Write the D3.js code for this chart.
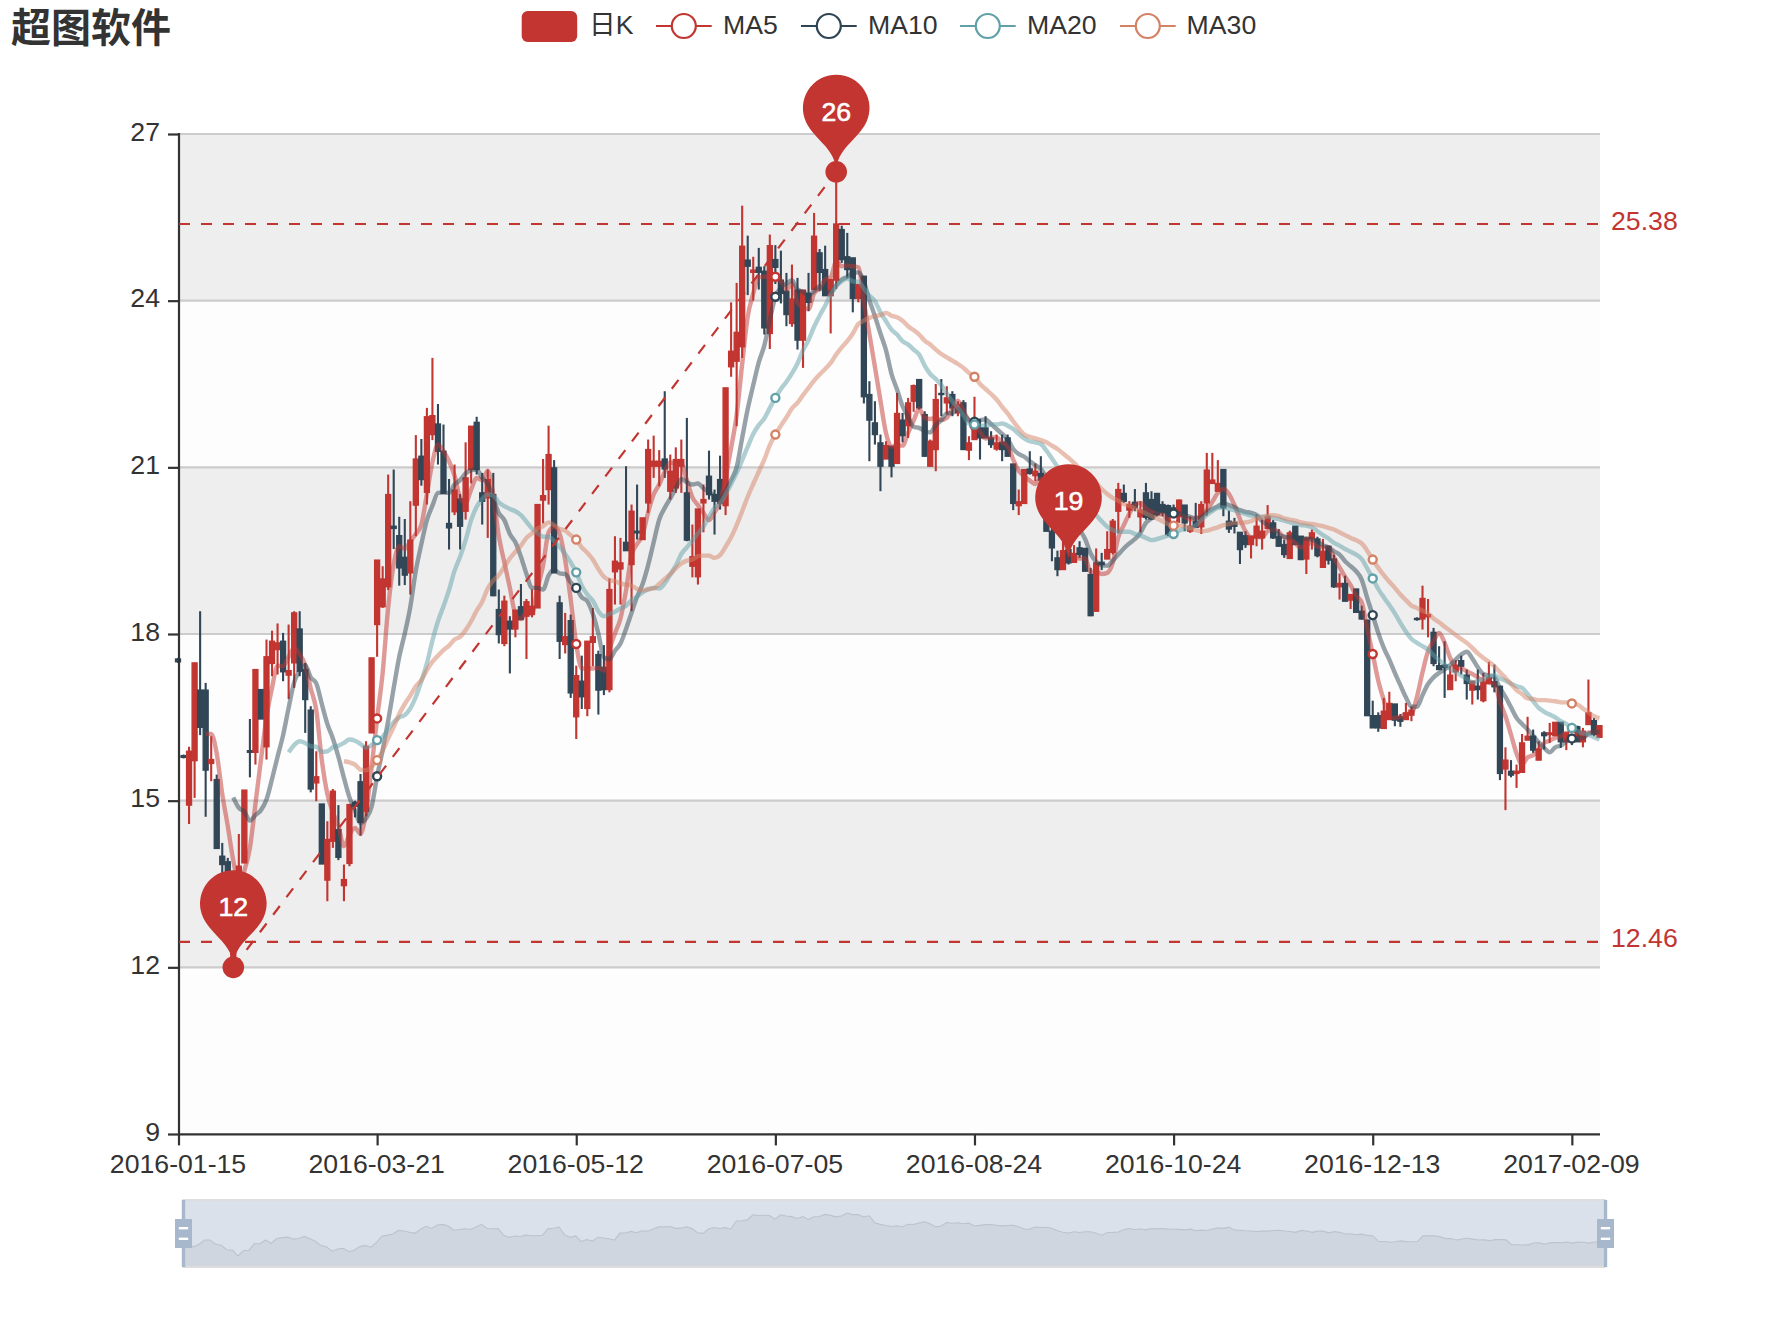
<!DOCTYPE html>
<html><head><meta charset="utf-8">
<script src="https://cdn.jsdelivr.net/npm/d3@7"></script>
<style>html,body{margin:0;padding:0;background:#fff}svg{display:block}text{font-family:"Liberation Sans","Noto Sans CJK SC",sans-serif}</style>
</head><body><svg id="c" width="1777" height="1333"></svg>
<script>
const titleText = "超图软件";
const legendNames = ["日K","MA5","MA10","MA20","MA30"];
const tickIndexes = [0,36,72,108,144,180,216,252];
const tickLabels = ["2016-01-15","2016-03-21","2016-05-12","2016-07-05","2016-08-24","2016-10-24","2016-12-13","2017-02-09"];
const yTicks = [9,12,15,18,21,24,27];
const extraPointIndex = [161];
const extraPointValue = [19.31];

const opens = [
17.55,15.81,14.92,15.72,16.99,16.99,15.67,15.38,14.00,13.90,
12.10,13.70,13.88,15.90,15.87,17.00,15.97,17.47,17.72,17.87,
17.26,17.48,18.09,17.36,16.63,15.32,14.94,13.57,14.27,14.48,
13.47,13.87,14.97,15.34,14.81,16.22,18.17,18.49,18.85,19.94,
19.77,19.38,19.10,20.32,21.20,20.55,21.59,21.78,21.29,19.99,
20.20,20.43,20.21,20.96,21.81,20.54,20.45,20.51,18.44,17.83,
18.23,18.09,18.49,18.32,18.35,18.47,20.41,20.60,20.99,18.56,
17.81,18.24,16.51,17.15,16.66,17.85,17.63,17.40,17.00,19.12,
19.17,19.65,19.25,19.85,19.70,20.36,21.02,21.02,21.15,20.57,
20.63,21.02,20.54,19.22,19.03,20.36,20.84,20.51,20.78,20.31,
22.81,22.91,23.17,24.73,24.51,24.60,24.53,23.41,24.74,24.37,
24.17,23.59,24.19,23.29,24.13,24.20,24.86,24.56,24.09,24.37,
25.28,24.79,24.77,24.04,24.44,22.31,21.80,21.44,21.15,21.38,
21.07,21.85,21.75,22.19,22.58,21.95,21.02,21.32,22.33,22.16,
22.31,21.98,22.16,21.31,21.50,21.71,21.71,21.53,21.33,21.45,
21.53,21.06,20.31,20.35,20.97,20.85,20.89,20.60,19.85,19.37,
19.16,19.52,19.29,19.55,19.54,19.07,18.41,19.29,19.35,19.47,
20.21,20.53,20.23,20.37,20.11,20.54,20.42,20.53,20.33,20.31,
20.27,20.12,20.32,19.85,20.03,19.93,20.36,20.71,20.57,20.96,
20.03,20.01,19.83,19.77,19.61,19.73,19.73,19.90,20.00,19.75,
19.61,19.36,19.94,19.76,19.35,19.71,19.71,19.20,19.58,19.35,
18.85,18.91,18.61,18.81,18.41,18.25,16.53,16.53,16.30,16.46,
16.74,16.51,16.46,16.54,18.28,18.27,18.31,18.03,17.43,17.44,
17.00,17.32,17.52,17.26,16.99,17.06,16.80,17.11,17.14,17.06,
15.57,15.53,15.49,15.51,16.09,16.16,15.73,16.22,16.19,16.17,
16.41,16.06,16.35,16.33,16.06,16.37,16.44,16.14];

const closes = [
17.50,15.78,15.89,17.48,16.32,15.55,15.74,14.14,13.85,13.40,
12.46,13.82,15.19,15.87,17.36,16.47,17.59,17.87,17.84,17.32,
17.34,18.38,17.33,16.82,15.21,15.43,13.86,14.30,15.17,13.98,
13.58,14.93,14.90,14.61,15.98,17.57,19.33,18.99,20.51,19.90,
19.19,19.06,19.69,21.15,20.78,21.91,21.93,21.29,20.53,19.91,
20.59,19.94,20.81,21.74,20.96,20.39,20.78,18.69,17.99,18.59,
18.09,18.43,18.26,18.58,18.50,20.33,20.49,21.23,19.10,17.87,
17.95,16.94,17.25,16.87,17.87,17.95,16.99,17.00,18.80,19.31,
19.28,19.50,20.21,19.82,20.09,21.32,21.11,21.11,20.97,20.93,
21.14,21.14,19.69,19.39,20.25,20.42,20.51,20.39,20.35,22.43,
23.09,23.43,24.98,24.62,24.55,24.51,23.51,24.99,24.60,24.13,
23.75,24.03,23.29,24.19,23.97,25.16,24.51,24.09,24.38,25.38,
24.74,24.56,24.04,24.29,22.27,21.85,21.59,21.02,21.39,21.02,
21.97,21.57,22.16,22.47,22.07,21.20,21.47,22.22,22.31,22.25,
22.07,22.13,21.32,21.44,21.80,21.53,21.53,21.41,21.44,21.32,
21.20,20.35,20.38,20.96,20.89,20.93,20.77,19.85,19.55,19.16,
19.50,19.28,19.45,19.43,19.13,18.33,19.28,19.25,19.52,20.03,
20.60,20.39,20.33,20.27,20.23,20.10,20.07,20.15,20.18,19.79,
20.18,20.41,20.00,19.94,19.92,20.33,20.95,20.77,20.71,20.27,
19.89,19.94,19.52,19.61,19.76,19.94,19.85,20.11,19.73,19.58,
19.43,19.82,19.61,19.34,19.73,19.82,19.41,19.49,19.33,18.85,
18.91,18.59,18.71,18.39,18.27,16.53,16.31,16.31,16.61,16.75,
16.45,16.43,16.58,16.63,18.26,18.64,18.35,17.47,17.36,17.40,
17.26,17.44,17.42,17.11,17.15,17.00,17.13,17.21,17.05,15.49,
15.73,15.46,15.53,16.04,16.16,15.91,15.93,16.17,16.22,16.41,
16.06,16.22,16.06,16.06,16.25,16.58,16.19,16.35];

const lows = [
17.48,15.76,14.58,15.05,16.18,14.71,15.35,14.14,13.70,13.20,
12.00,13.60,13.88,15.42,15.65,16.47,15.74,17.24,17.27,17.15,
16.83,17.03,17.24,16.22,15.15,14.99,13.86,13.19,14.15,13.93,
13.19,13.82,14.70,14.37,14.72,16.22,17.59,18.47,18.79,19.53,
18.87,18.88,18.71,19.76,20.67,20.33,21.49,21.05,20.53,19.52,
20.14,19.52,20.06,20.71,20.87,19.97,19.73,18.68,17.83,17.78,
17.29,17.94,18.26,17.55,18.30,18.47,19.99,20.33,19.10,17.55,
17.65,16.85,16.11,16.65,16.52,17.42,16.55,16.90,16.95,18.53,
18.53,19.50,18.41,19.70,19.70,20.18,20.81,20.66,20.81,20.42,
20.54,20.54,19.67,19.02,18.89,19.83,20.42,19.79,20.24,20.14,
22.63,21.74,22.97,24.10,24.00,24.20,23.39,23.13,24.30,23.95,
23.54,23.53,23.12,22.79,23.81,24.20,24.17,24.09,23.41,24.21,
24.68,24.40,23.79,23.97,22.15,21.11,21.41,20.57,21.15,20.82,
21.07,21.45,21.53,22.00,22.04,21.19,21.02,20.93,21.92,21.95,
21.92,21.92,21.32,21.13,21.50,21.14,21.53,21.35,21.30,21.11,
21.20,20.23,20.14,20.35,20.87,20.75,20.75,19.85,19.31,19.04,
19.16,19.25,19.29,19.37,19.13,18.32,18.41,19.15,19.35,19.43,
19.82,20.36,20.09,20.21,19.83,20.06,20.06,20.12,20.12,19.76,
20.00,20.00,19.85,19.82,19.92,19.80,20.13,20.71,20.57,20.12,
19.82,19.81,19.26,19.55,19.36,19.58,19.52,19.90,19.71,19.58,
19.37,19.36,19.61,19.33,19.08,19.52,19.38,19.20,19.25,18.83,
18.62,18.59,18.45,18.38,18.26,16.53,16.31,16.24,16.30,16.46,
16.34,16.33,16.46,16.43,18.24,18.08,17.94,17.42,17.35,16.85,
17.00,17.15,17.27,16.82,16.73,16.82,16.77,17.11,16.95,15.37,
14.83,15.42,15.23,15.51,16.09,15.86,15.73,15.92,16.04,16.17,
15.95,15.91,16.00,16.06,15.96,16.37,16.16,16.14];

const highs = [
17.57,15.83,15.97,17.48,18.41,17.12,16.16,15.47,14.24,13.97,
13.60,14.40,15.19,16.47,17.36,17.00,17.90,18.06,18.19,18.02,
18.17,18.41,18.41,17.48,16.70,15.89,14.94,14.63,15.21,14.92,
13.85,14.93,15.00,15.48,16.07,17.57,19.33,19.22,20.87,20.96,
20.11,20.07,20.39,21.58,21.51,22.07,22.97,22.14,21.77,20.79,
21.05,20.52,21.45,21.74,21.91,20.90,20.96,20.90,18.80,18.69,
18.32,18.43,18.90,18.63,18.80,20.34,21.15,21.75,21.13,18.69,
18.38,18.35,17.43,17.61,17.87,18.47,17.70,17.80,19.00,19.76,
19.73,21.02,20.33,20.69,20.09,21.50,21.57,21.31,22.37,21.23,
21.36,21.50,21.89,19.97,20.25,20.69,21.30,20.60,21.21,22.43,
23.97,24.32,25.71,25.17,24.79,24.95,24.62,25.19,25.00,24.90,
24.50,24.65,24.41,24.19,24.50,25.58,24.93,24.99,24.38,26.32,
25.35,25.22,24.77,24.29,24.44,22.55,22.19,21.59,21.47,21.38,
22.34,21.98,22.25,22.49,22.58,22.01,21.50,22.50,22.59,22.46,
22.37,22.19,22.21,21.56,22.27,21.87,21.92,21.65,21.59,21.59,
21.59,21.06,20.60,20.96,21.29,21.07,21.20,20.70,20.00,19.50,
19.80,19.70,19.60,19.67,19.55,19.19,19.54,19.46,19.85,20.07,
20.72,20.69,20.39,20.61,20.39,20.72,20.57,20.54,20.39,20.33,
20.33,20.42,20.32,20.12,20.36,20.39,21.26,21.26,21.13,20.96,
20.22,20.09,19.83,19.85,19.76,20.15,20.06,20.32,20.05,19.89,
19.70,19.86,19.94,19.76,19.74,19.88,19.75,19.71,19.58,19.43,
19.09,19.05,18.71,18.81,18.51,18.25,16.80,16.59,16.85,16.96,
16.74,16.56,16.76,16.70,18.30,18.87,18.63,18.11,17.78,17.87,
17.42,17.53,17.61,17.36,17.15,17.36,17.30,17.50,17.45,17.06,
15.96,15.73,15.65,16.20,16.51,16.28,16.07,16.25,16.40,16.41,
16.41,16.22,16.40,16.35,16.31,17.18,16.49,16.35];

const ma5 = [null,null,null,null,null,
16.20,16.20,15.85,15.12,14.54,
13.92,13.53,13.74,14.15,14.94,15.74,16.50,17.03,17.43,17.42,
17.59,17.75,17.64,17.44,17.02,16.63,15.73,15.12,14.79,14.55,
14.18,14.39,14.51,14.40,14.80,15.60,16.48,17.30,18.48,19.26,
19.58,19.53,19.67,19.80,19.97,20.52,21.09,21.41,21.29,21.11,
20.85,20.45,20.36,20.60,20.81,20.77,20.94,20.51,19.76,19.29,
18.83,18.36,18.27,18.39,18.37,18.82,19.23,19.83,19.93,19.80,
19.33,18.62,17.82,17.38,17.38,17.38,17.39,17.34,17.72,18.01,
18.28,18.78,19.42,19.62,19.78,20.19,20.51,20.69,20.92,21.09,
21.05,21.06,20.77,20.46,20.32,20.18,20.05,20.19,20.38,20.82,
21.35,21.94,22.86,23.71,24.13,24.42,24.43,24.44,24.43,24.35,
24.20,24.30,23.96,23.88,23.85,24.13,24.22,24.38,24.42,24.70,
24.62,24.63,24.62,24.60,23.98,23.40,22.81,22.20,21.62,21.37,
21.40,21.39,21.62,21.84,22.05,21.89,21.87,21.89,21.85,21.89,
22.06,22.20,22.02,21.84,21.75,21.64,21.52,21.54,21.54,21.45,
21.38,21.14,20.94,20.84,20.76,20.70,20.79,20.68,20.40,20.05,
19.77,19.47,19.39,19.36,19.36,19.12,19.12,19.08,19.10,19.28,
19.74,19.96,20.17,20.32,20.36,20.26,20.20,20.16,20.15,20.06,
20.07,20.14,20.11,20.06,20.09,20.12,20.23,20.38,20.54,20.61,
20.52,20.32,20.07,19.85,19.74,19.75,19.74,19.85,19.88,19.84,
19.74,19.73,19.63,19.56,19.59,19.66,19.58,19.56,19.56,19.38,
19.20,19.03,18.88,18.69,18.57,18.10,17.64,17.16,16.81,16.50,
16.49,16.51,16.56,16.57,16.87,17.31,17.69,17.87,18.02,17.84,
17.57,17.39,17.38,17.33,17.28,17.22,17.16,17.12,17.11,16.78,
16.52,16.19,15.85,15.65,15.78,15.82,15.91,16.04,16.08,16.13,
16.16,16.22,16.19,16.16,16.13,16.23,16.23,16.29];

const ma10 = [null,null,null,null,null,null,null,null,null,null,
15.06,14.87,14.80,14.64,14.74,14.83,15.02,15.39,15.79,16.18,
16.67,17.13,17.34,17.44,17.22,17.11,16.74,16.38,16.12,15.79,
15.41,15.06,14.82,14.60,14.68,14.89,15.44,15.91,16.44,17.03,
17.59,18.01,18.49,19.14,19.62,20.05,20.31,20.54,20.55,20.54,
20.69,20.77,20.89,20.95,20.96,20.81,20.70,20.44,20.18,20.05,
19.80,19.65,19.39,19.08,18.83,18.83,18.80,19.05,19.16,19.09,
19.08,18.93,18.83,18.66,18.59,18.36,18.01,17.58,17.55,17.70,
17.83,18.09,18.38,18.67,18.90,19.24,19.65,20.06,20.27,20.44,
20.62,20.79,20.73,20.69,20.71,20.62,20.56,20.48,20.42,20.57,
20.77,21.00,21.53,22.05,22.48,22.89,23.19,23.65,24.07,24.24,
24.31,24.37,24.20,24.16,24.10,24.17,24.26,24.17,24.15,24.28,
24.38,24.43,24.50,24.51,24.34,24.01,23.72,23.41,23.11,22.68,
22.40,22.10,21.91,21.73,21.71,21.65,21.63,21.76,21.85,21.97,
21.98,22.04,21.96,21.85,21.82,21.85,21.86,21.78,21.69,21.60,
21.51,21.33,21.24,21.19,21.11,21.04,20.97,20.81,20.62,20.41,
20.24,20.13,20.04,19.88,19.71,19.45,19.30,19.24,19.23,19.32,
19.43,19.54,19.63,19.71,19.82,20.00,20.08,20.17,20.24,20.21,
20.17,20.17,20.14,20.11,20.08,20.10,20.19,20.25,20.30,20.35,
20.32,20.28,20.23,20.20,20.18,20.14,20.03,19.96,19.87,19.79,
19.75,19.74,19.74,19.72,19.72,19.70,19.66,19.60,19.56,19.49,
19.43,19.31,19.22,19.13,18.98,18.65,18.34,18.02,17.75,17.54,
17.30,17.08,16.86,16.69,16.69,16.90,17.10,17.22,17.30,17.36,
17.44,17.54,17.63,17.68,17.56,17.40,17.28,17.25,17.22,17.03,
16.87,16.68,16.49,16.38,16.28,16.17,16.05,15.95,15.87,15.96,
15.99,16.07,16.12,16.12,16.13,16.20,16.23,16.24];

const ma20 = [null,null,null,null,null,null,null,null,null,null,
null,null,null,null,null,null,null,null,null,null,
15.87,16.00,16.07,16.04,15.98,15.97,15.88,15.89,15.96,15.99,
16.04,16.10,16.08,16.02,15.95,16.00,16.09,16.15,16.28,16.41,
16.50,16.54,16.66,16.87,17.15,17.47,17.88,18.23,18.50,18.79,
19.14,19.39,19.69,20.05,20.29,20.43,20.51,20.49,20.37,20.30,
20.25,20.21,20.14,20.02,19.90,19.82,19.75,19.75,19.67,19.57,
19.44,19.29,19.11,18.87,18.71,18.60,18.41,18.32,18.36,18.40,
18.46,18.51,18.61,18.67,18.75,18.80,18.83,18.82,18.91,19.07,
19.23,19.44,19.56,19.68,19.81,19.93,20.11,20.27,20.35,20.51,
20.70,20.90,21.13,21.37,21.60,21.76,21.88,22.07,22.25,22.41,
22.54,22.69,22.87,23.11,23.29,23.53,23.73,23.91,24.11,24.26,
24.35,24.40,24.35,24.34,24.22,24.09,23.99,23.79,23.63,23.48,
23.39,23.27,23.21,23.12,23.03,22.83,22.68,22.59,22.48,22.33,
22.19,22.07,21.94,21.79,21.77,21.75,21.75,21.77,21.77,21.79,
21.75,21.69,21.60,21.52,21.47,21.45,21.42,21.30,21.16,21.01,
20.88,20.73,20.64,20.54,20.41,20.25,20.14,20.03,19.93,19.87,
19.84,19.84,19.84,19.80,19.77,19.73,19.69,19.71,19.74,19.77,
19.80,19.86,19.89,19.91,19.95,20.05,20.14,20.21,20.27,20.28,
20.25,20.23,20.19,20.16,20.13,20.12,20.11,20.11,20.09,20.07,
20.04,20.01,19.99,19.96,19.95,19.92,19.85,19.78,19.72,19.64,
19.59,19.53,19.48,19.43,19.35,19.18,19.00,18.81,18.66,18.52,
18.37,18.20,18.04,17.91,17.84,17.78,17.72,17.62,17.53,17.45,
17.37,17.31,17.25,17.19,17.13,17.15,17.19,17.24,17.26,17.20,
17.16,17.11,17.06,17.03,16.92,16.79,16.67,16.60,16.55,16.50,
16.43,16.38,16.31,16.25,16.21,16.19,16.14,16.10];

const ma30 = [null,null,null,null,null,null,null,null,null,null,
null,null,null,null,null,null,null,null,null,null,
null,null,null,null,null,null,null,null,null,null,
15.71,15.69,15.65,15.56,15.55,15.61,15.73,15.90,16.12,16.33,
16.56,16.74,16.89,17.06,17.17,17.35,17.50,17.61,17.71,17.79,
17.90,17.95,18.07,18.23,18.42,18.58,18.82,18.96,19.06,19.21,
19.36,19.48,19.59,19.73,19.81,19.90,19.94,20.01,19.96,19.89,
19.86,19.78,19.70,19.56,19.46,19.34,19.17,19.03,18.97,18.95,
18.91,18.89,18.87,18.81,18.78,18.81,18.82,18.90,18.99,19.08,
19.18,19.27,19.32,19.34,19.40,19.41,19.41,19.37,19.42,19.57,
19.74,19.96,20.21,20.47,20.70,20.92,21.14,21.40,21.59,21.75,
21.90,22.06,22.16,22.30,22.43,22.56,22.67,22.77,22.88,23.03,
23.16,23.27,23.41,23.58,23.64,23.69,23.72,23.74,23.78,23.73,
23.70,23.64,23.54,23.47,23.39,23.28,23.21,23.12,23.04,22.98,
22.92,22.86,22.79,22.70,22.63,22.50,22.41,22.32,22.22,22.09,
21.97,21.83,21.70,21.59,21.55,21.52,21.49,21.45,21.39,21.33,
21.25,21.17,21.08,20.98,20.88,20.78,20.71,20.61,20.52,20.45,
20.40,20.34,20.31,20.26,20.22,20.17,20.12,20.08,20.03,19.98,
19.95,19.95,19.94,19.90,19.87,19.85,19.86,19.89,19.92,19.96,
19.98,20.00,20.00,20.01,20.03,20.08,20.10,20.13,20.14,20.12,
20.08,20.06,20.04,20.01,19.99,19.98,19.96,19.94,19.91,19.88,
19.83,19.78,19.73,19.69,19.63,19.50,19.34,19.19,19.06,18.94,
18.83,18.71,18.61,18.51,18.47,18.42,18.37,18.28,18.21,18.13,
18.06,17.98,17.91,17.84,17.75,17.65,17.57,17.50,17.42,17.31,
17.21,17.10,16.99,16.92,16.84,16.83,16.81,16.81,16.80,16.79,
16.77,16.77,16.75,16.73,16.66,16.59,16.52,16.48];

const RED="#c23531", DARK="#314656", TXT="#333";
const maSeries=[ma5,ma10,ma20,ma30], maColors=["#c23531","#2f4554","#61a0a8","#d48265"];
const FS=26.67;

const svg=d3.select("#c");
const x=d3.scaleLinear().domain([0,257]).range([178,1599.5]);
const y=d3.scaleLinear().domain([9,27]).range([1134,134]);

// split areas and lines
const bandPairs=d3.pairs(yTicks);
svg.append("g").selectAll("rect").data(bandPairs).join("rect")
  .attr("x",179).attr("width",1421)
  .attr("y",d=>y(d[1])).attr("height",d=>y(d[0])-y(d[1]))
  .attr("fill",(d,i)=>i%2? "#eeeeee":"#fdfdfd");
svg.append("g").selectAll("line").data(yTicks.slice(1)).join("line")
  .attr("x1",179).attr("x2",1600).attr("y1",d=>y(d)).attr("y2",d=>y(d))
  .attr("stroke","#ccc").attr("stroke-width",2.2);

// candles
const idx=d3.range(closes.length);
const candles=svg.append("g").selectAll("g").data(idx).join("g")
  .attr("fill",i=>closes[i]>=opens[i]?RED:DARK).attr("stroke",i=>closes[i]>=opens[i]?RED:DARK);
candles.append("line").attr("x1",i=>x(i)).attr("x2",i=>x(i))
  .attr("y1",i=>y(highs[i])).attr("y2",i=>y(lows[i])).attr("stroke-width",2.1);
candles.append("rect").attr("x",i=>x(i)-2.5).attr("width",5)
  .attr("y",i=>y(Math.max(opens[i],closes[i])))
  .attr("height",i=>Math.abs(y(opens[i])-y(closes[i])))
  .attr("stroke-width",1.3);

// moving average lines
const lineGen=d3.line().defined(d=>d!=null).x((d,i)=>x(i)).y(d=>y(d)).curve(d3.curveMonotoneX);
svg.append("g").selectAll("path").data(maSeries).join("path")
  .attr("d",lineGen).attr("fill","none").attr("stroke",(d,i)=>maColors[i])
  .attr("stroke-width",4.4).attr("stroke-opacity",0.5);
maSeries.forEach((s,k)=>{
  svg.append("g").selectAll("circle").data(tickIndexes.filter(i=>s[i]!=null)).join("circle")
    .attr("cx",i=>x(i)).attr("cy",i=>y(s[i])).attr("r",4)
    .attr("fill","#fff").attr("stroke",maColors[k]).attr("stroke-width",2.4);
});

// axes
const yAxis=d3.axisLeft(y).tickValues(yTicks).tickSize(11).tickPadding(8).tickFormat(d3.format("d"));
const yg=svg.append("g").attr("transform","translate(179,0)").call(yAxis);
const xAxis=d3.axisBottom(x).tickValues(tickIndexes).tickSize(11).tickFormat((d,k)=>tickLabels[k]);
const xg=svg.append("g").attr("transform","translate(0,1134.4)").call(xAxis);
[yg,xg].forEach(g=>{
  g.attr("font-family",null).attr("font-size",null);
  g.selectAll("path,line").attr("stroke","#333").attr("stroke-width",2.2);
  g.selectAll("text").attr("fill",TXT).style("font-size",FS+"px");
});
yg.select("path").attr("d","M0,133V1135.5");
xg.select("path").attr("d","M178,0H1600");
yg.selectAll(".tick text").attr("dy",6).attr("x",-19);
xg.selectAll(".tick text").attr("dy",0).attr("y",39).attr("x",-1);
xg.selectAll(".tick").filter(d=>d===0).attr("transform",`translate(179,0)`);

// mark lines
const maxClose=d3.max(closes), minClose=d3.min(closes);
const marks=svg.append("g");
[maxClose,minClose].forEach(v=>{
  marks.append("line").attr("x1",179).attr("x2",1600).attr("y1",y(v)).attr("y2",y(v))
    .attr("stroke",RED).attr("stroke-width",2.2).attr("stroke-dasharray","11,11");
  marks.append("text").attr("x",1611).attr("y",y(v)+5.6).attr("fill",RED).style("font-size",FS+"px").text(v.toFixed(2));
});
const iLow=d3.minIndex(lows), iHigh=d3.maxIndex(highs);
marks.append("line").attr("x1",x(iLow)).attr("y1",y(lows[iLow])).attr("x2",x(iHigh)).attr("y2",y(highs[iHigh]))
  .attr("stroke",RED).attr("stroke-width",2.2).attr("stroke-dasharray","11,11");

function pinPath(px,py){
  const r=33.3,h=111.3,dy=r*r/(h-r),cy=py-h+r+dy,a=Math.asin(dy/r),dx=Math.cos(a)*r,
    tx=Math.sin(a),ty=Math.cos(a),c1=r*0.6,c2=r*0.7;
  const p=d3.path();
  p.moveTo(px-dx,cy+dy);
  p.arc(px,cy,r,Math.PI-a,Math.PI*2+a);
  p.bezierCurveTo(px+dx-tx*c1,cy+dy+ty*c1,px,py-c2,px,py);
  p.bezierCurveTo(px,py-c2,px-dx+tx*c1,cy+dy+ty*c1,px-dx,cy+dy);
  p.closePath();
  return p.toString();
}
const pins=[[iLow,lows[iLow],true],[iHigh,highs[iHigh],true],[extraPointIndex[0],extraPointValue[0],false]];
pins.forEach(([i,v,dot])=>{
  const px=x(i),py=y(v);
  if(dot) marks.append("circle").attr("cx",px).attr("cy",py).attr("r",10.8).attr("fill",RED);
  marks.append("path").attr("d",pinPath(px,py)).attr("fill",RED);
  marks.append("text").attr("x",px).attr("y",py-60.5+9.5).attr("text-anchor","middle")
    .attr("fill","#fff").attr("stroke","#fff").attr("stroke-width",0.6)
    .style("font-size",FS+"px").text(Math.floor(v));
});

// title
svg.append("text").attr("x",11).attr("y",42).attr("fill",TXT)
  .style("font-family",'"Noto Sans CJK SC"').style("font-weight",700).style("font-size","40px").text(titleText);

// legend
const lg=svg.append("g");
lg.append("rect").attr("x",521.7).attr("y",11).attr("width",55.5).attr("height",31).attr("rx",6).attr("fill",RED);
lg.append("text").attr("x",589).attr("y",34.3).attr("fill",TXT).style("font-size",FS+"px").text(legendNames[0]);
const legendLineX=[656,801,960,1120], legendTextX=[723,868,1027,1186.6];
maColors.forEach((c,k)=>{
  lg.append("line").attr("x1",legendLineX[k]).attr("x2",legendLineX[k]+55.7).attr("y1",26).attr("y2",26).attr("stroke",c).attr("stroke-width",2.2);
  lg.append("circle").attr("cx",legendLineX[k]+27.8).attr("cy",26).attr("r",12).attr("fill","#fff").attr("stroke",c).attr("stroke-width",2.2);
  lg.append("text").attr("x",legendTextX[k]).attr("y",34.3).attr("fill",TXT).style("font-size",FS+"px").text(legendNames[k+1]);
});

// data zoom
const sx=d3.scaleLinear().domain([0,257]).range([182.5,1605.7]);
const sy=d3.scaleLinear().domain([12.1,25.28]).range([1256,1213]);
const sl=svg.append("g");
sl.append("rect").attr("x",182.5).attr("y",1200).attr("width",1423.2).attr("height",67).attr("fill","#dbe1ea");
sl.append("path").datum(opens).attr("fill","#d0d6e0")
  .attr("d",d3.area().x((d,i)=>sx(i)).y0(1267).y1(d=>sy(d)));
sl.append("path").datum(opens).attr("fill","none").attr("stroke","#bcc3ce").attr("stroke-width",1.1)
  .attr("d",d3.line().x((d,i)=>sx(i)).y(d=>sy(d)));
sl.append("line").attr("x1",182.5).attr("x2",1605.7).attr("y1",1200).attr("y2",1200).attr("stroke","#dddddd").attr("stroke-width",2);
sl.append("line").attr("x1",182.5).attr("x2",1605.7).attr("y1",1267).attr("y2",1267).attr("stroke","#dddddd").attr("stroke-width",2);
[183.5,1605.5].forEach(cx=>{
  sl.append("rect").attr("x",cx-1.7).attr("y",1200).attr("width",3.4).attr("height",67).attr("fill","#a7b7cc");
  sl.append("rect").attr("x",cx-8.5).attr("y",1219).attr("width",17).attr("height",29).attr("fill","#a7b7cc");
  [1227,1237.6].forEach(yy=>sl.append("rect").attr("x",cx-4.7).attr("y",yy).attr("width",9.4).attr("height",2.4).attr("fill","#fff"));
});
</script></body></html>
